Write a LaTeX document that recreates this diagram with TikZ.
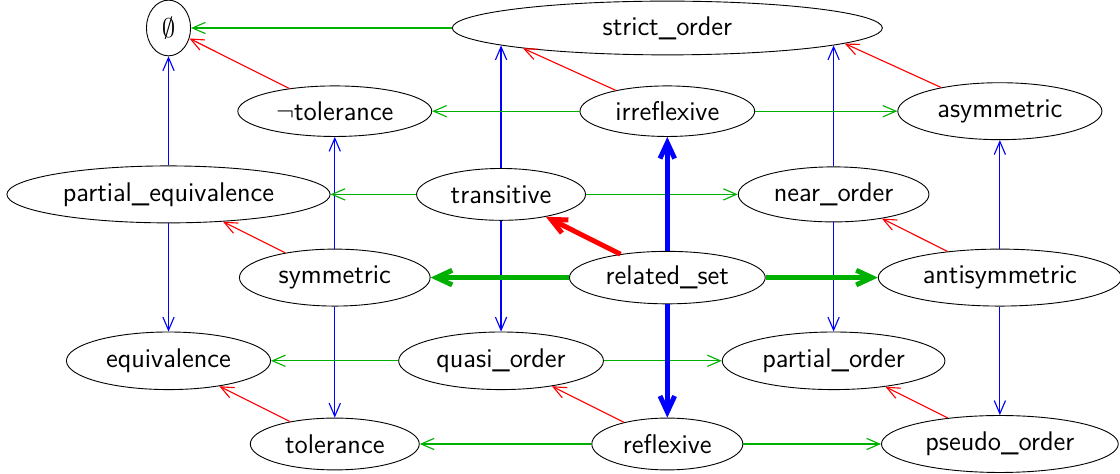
\documentclass[tikz,border=0pt]{standalone}
\usetikzlibrary{shapes.geometric,arrows.meta}
\definecolor{relgreen}{RGB}{0,176,0}

\begin{document}
\begin{tikzpicture}[x=2.598cm,y=-1.3cm,every node/.style={draw,ellipse,inner sep=0pt,minimum height=0.89cm,font=\sffamily\large}]
      \tikzstyle{impl}=[line width=0.5pt,-{Straight Barb[length=5.8pt,width=5pt]}]
      \tikzstyle{strong}=[line width=2.2pt,-{Straight Barb[length=7pt,width=6.5pt]}]
      \useasboundingbox (-1.0135,-0.3365) rectangle (5.7225,5.3606);

      \node (empty) at (0,0) [minimum width=0.69cm,minimum height=0.87cm] {$\emptyset$};
      \node (strict) at (3,0) [minimum width=6.72cm,minimum height=0.84cm] {strict\_order};
      \node (ntol) at (1,1) [minimum width=3.03cm,minimum height=0.79cm] {$\neg$tolerance};
      \node (irrefl) at (3,1) [minimum width=2.73cm,minimum height=0.79cm] {irreflexive};
      \node (asym) at (5,1) [minimum width=3.19cm] {asymmetric};
      \node (pequiv) at (0,2) [minimum width=5.05cm] {partial\_equivalence};
      \node (trans) at (2,2) [minimum width=2.64cm,minimum height=0.81cm] {transitive};
      \node (near) at (4,2) [minimum width=2.98cm,minimum height=0.86cm] {near\_order};
      \node (sym) at (1,3) [minimum width=2.98cm] {symmetric};
      \node (rel) at (3,3) [minimum width=3.06cm,minimum height=0.82cm] {related\_set};
      \node (antisym) at (5,3) [minimum width=3.8cm] {antisymmetric};
      \node (equiv) at (0,4) [minimum width=3.19cm,minimum height=0.9cm] {equivalence};
      \node (quasi) at (2,4) [minimum width=3.2cm,minimum height=0.9cm] {quasi\_order};
      \node (porder) at (4,4) [minimum width=3.48cm,minimum height=0.9cm] {partial\_order};
      \node (tol) at (1,5) [minimum width=2.64cm,minimum height=0.81cm] {tolerance};
      \node (refl) at (3,5) [minimum width=2.36cm,minimum height=0.81cm] {reflexive};
      \node (pseudo) at (5,5) [minimum width=3.7cm] {pseudo\_order};

      \draw [impl,relgreen] (strict) -- (empty);
      \draw [impl,red] (ntol) -- (empty);
      \draw [impl,blue] (pequiv) -- (empty);
      \draw [impl,red] (irrefl.158) -- (strict.188);
      \draw [impl,red] (asym.158) -- (strict.355);
      \draw [impl,blue] (trans.north) -- (trans.north |- strict.186);
      \draw [impl,blue] (near.north) -- (near.north |- strict.354);
      \draw [impl,relgreen] (irrefl) -- (ntol);
      \draw [impl,relgreen] (irrefl) -- (asym);
      \draw [impl,blue] (sym) -- (ntol);
      \draw [impl,blue] (antisym) -- (asym);
      \draw [impl,relgreen] (trans) -- (pequiv);
      \draw [impl,relgreen] (trans) -- (near);
      \draw [impl,red] (sym) -- (pequiv);
      \draw [impl,red] (antisym) -- (near);
      \draw [impl,blue] (pequiv) -- (equiv);
      \draw [impl,blue] (trans) -- (quasi);
      \draw [impl,blue] (near) -- (porder);
      \draw [impl,blue] (sym) -- (tol);
      \draw [impl,blue] (antisym) -- (pseudo);
      \draw [impl,relgreen] (quasi) -- (equiv);
      \draw [impl,relgreen] (quasi) -- (porder);
      \draw [impl,red] (tol) -- (equiv);
      \draw [impl,red] (refl) -- (quasi);
      \draw [impl,red] (pseudo) -- (porder);
      \draw [impl,relgreen] (refl) -- (tol);
      \draw [impl,relgreen] (refl) -- (pseudo);

      \draw [strong,blue] (rel) -- (irrefl);
      \draw [strong,blue] (rel) -- (refl);
      \draw [strong,relgreen] (rel) -- (sym);
      \draw [strong,relgreen] (rel) -- (antisym);
      \draw [strong,red] (rel) -- (trans);
\end{tikzpicture}
\end{document}
